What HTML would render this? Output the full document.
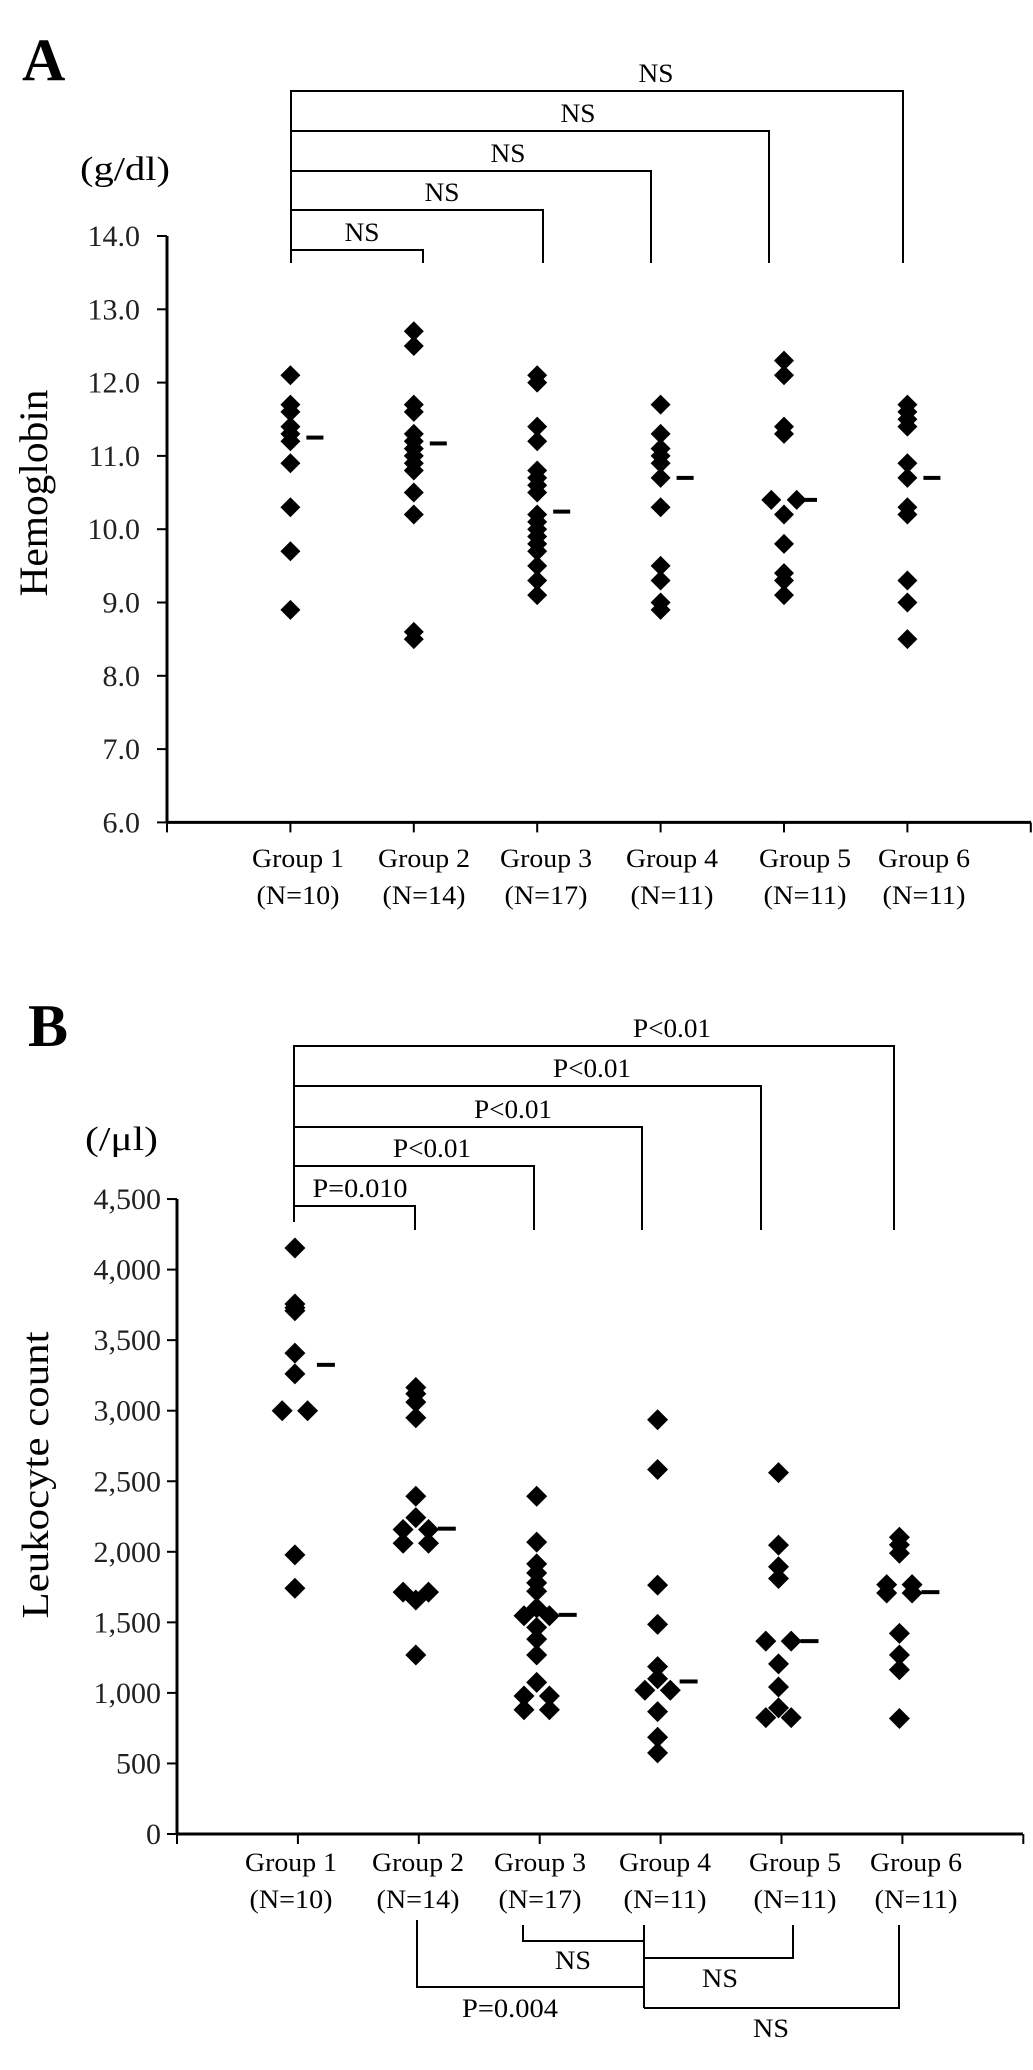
<!DOCTYPE html>
<html><head><meta charset="utf-8"><style>
html,body{margin:0;padding:0;background:#fff;}
svg{display:block;font-family:"Liberation Serif",serif;}
</style></head><body>
<svg id="fig" width="1033" height="2070" viewBox="0 0 1033 2070" xmlns="http://www.w3.org/2000/svg">
<g id="panelA"></g>
<g id="panelB"></g>
</svg>
<script>
// ---------- data ----------
const categories = ['Group 1','Group 2','Group 3','Group 4','Group 5','Group 6'];
const nLabels = ['(N=10)','(N=14)','(N=17)','(N=11)','(N=11)','(N=11)'];

const hbG1 = [12.1,11.7,11.6,11.4,11.3,11.2,10.9,10.3,9.7,8.9];
const hbG2 = [12.7,12.5,11.7,11.6,11.3,11.2,11.1,11.0,10.9,10.8,10.5,10.2,8.6,8.5];
const hbG3 = [12.1,12.0,11.4,11.2,10.8,10.7,10.6,10.5,10.2,10.1,10.0,9.9,9.8,9.7,9.5,9.3,9.1];
const hbG4 = [11.7,11.3,11.1,11.0,10.9,10.7,10.3,9.5,9.3,9.0,8.9];
const hbG5 = [12.3,12.1,11.4,11.3,10.4,10.4,10.2,9.8,9.4,9.3,9.1];
const hbG6 = [11.7,11.6,11.5,11.4,10.9,10.7,10.3,10.2,9.3,9.0,8.5];
const hbMedians = [11.25,11.17,10.24,10.7,10.4,10.7];
const hbTicks = [6,7,8,9,10,11,12,13,14];
const hbTickLabels = ['6.0','7.0','8.0','9.0','10.0','11.0','12.0','13.0','14.0'];
const hbPairs = [[0,1],[0,2],[0,3],[0,4],[0,5]];
const hbPairLabels = ['NS','NS','NS','NS','NS'];

const wbcG1 = [4153,3756,3730,3708,3408,3261,3000,3000,1978,1742];
const wbcG2 = [3164,3120,3061,2950,2394,2242,2158,2158,2061,2061,1714,1714,1658,1269];
const wbcG3 = [2394,2069,1914,1850,1780,1720,1603,1547,1547,1464,1381,1269,1075,978,978,881,881];
const wbcG4 = [2936,2583,1764,1486,1186,1100,1019,1019,867,686,575];
const wbcG5 = [2561,2047,1894,1811,1367,1367,1206,1042,894,825,825];
const wbcG6 = [2103,2050,1990,1767,1767,1708,1708,1422,1269,1164,819];
const wbcMedians = [3325,2164,1553,1081,1367,1714];
const wbcTicks = [0,500,1000,1500,2000,2500,3000,3500,4000,4500];
const wbcTickLabels = ['0','500','1,000','1,500','2,000','2,500','3,000','3,500','4,000','4,500'];
const wbcTopPairs = [[0,1],[0,2],[0,3],[0,4],[0,5]];
const wbcTopLabels = ['P=0.010','P<0.01','P<0.01','P<0.01','P<0.01'];
const wbcBottomLabels = ['NS','NS','P=0.004','NS'];

// ---------- helpers ----------
const NS='http://www.w3.org/2000/svg';
function mk(parent,tag,attrs,text){const e=document.createElementNS(NS,tag);for(const k in attrs)e.setAttribute(k,attrs[k]);if(text!==undefined)e.textContent=text;parent.appendChild(e);return e;}
function line(p,x1,y1,x2,y2,w){return mk(p,'line',{x1:x1,y1:y1,x2:x2,y2:y2,stroke:'#000','stroke-width':w});}

function drawPanel(cfg){
  const g=cfg.g;
  let t=mk(g,'text',{x:cfg.letterX,y:cfg.letterY,'font-size':60,'font-weight':'bold'},cfg.letter);
  
  
  t=mk(g,'text',{x:cfg.unitX,y:cfg.unitY,'font-size':34,textLength:cfg.unitW,lengthAdjust:'spacingAndGlyphs'},cfg.unit);
  
  
  t=mk(g,'text',{x:0,y:0,'font-size':cfg.titleSize,'text-anchor':'middle',textLength:cfg.titleLen,lengthAdjust:'spacingAndGlyphs',transform:'translate('+cfg.titleX+','+cfg.titleY+') rotate(-90)'},cfg.title);
  
  
  let a=line(g,cfg.axisX,cfg.yOf(cfg.ticks[cfg.ticks.length-1]),cfg.axisX,cfg.yOf(cfg.ticks[0]),3);
  
  
  a=line(g,cfg.axisX,cfg.yOf(cfg.ticks[0]),cfg.axisEnd,cfg.yOf(cfg.ticks[0]),3);
  
  
  cfg.ticks.forEach((v,i)=>{
    const y=cfg.yOf(v);
    const tk=line(g,cfg.axisX-10,y,cfg.axisX,y,2);
    
    
    const lb=mk(g,'text',{x:cfg.tickLabelX,y:y+10,'font-size':30,'text-anchor':'end',fill:'#222'},cfg.tickLabels[i]);
    
    
  });
  const nT=categories.length+1;
  for(let k=0;k<=nT;k++){
    const x=cfg.axisX+k*cfg.step;
    const tk=line(g,x,cfg.yOf(cfg.ticks[0]),x,cfg.yOf(cfg.ticks[0])+10,2);
    
    
  }
  categories.forEach((c,i)=>{
    const lx=cfg.labelXs[i];
    let l=mk(g,'text',{x:lx,y:cfg.catY,'font-size':26,'text-anchor':'middle',textLength:92,lengthAdjust:'spacingAndGlyphs'},c);
    
    
    l=mk(g,'text',{x:lx,y:cfg.catY+37,'font-size':26,'text-anchor':'middle',textLength:83,lengthAdjust:'spacingAndGlyphs'},nLabels[i]);
    
    
  });
  const hs=cfg.half;
  cfg.series.forEach((vals,i)=>{
    const cx=cfg.xOf(i);
    const seen={};
    const counts={};
    vals.forEach(v=>{counts[v]=(counts[v]||0)+1;});
    vals.forEach(v=>{
      let x=cx;
      if(counts[v]>1){const k=seen[v]||0;seen[v]=k+1;x=cx+(k===0?-cfg.dx:cfg.dx);}
      const y=cfg.yOf(v);
      const p=mk(g,'polygon',{points:(x)+','+(y-hs)+' '+(x+hs)+','+y+' '+x+','+(y+hs)+' '+(x-hs)+','+y,fill:'#000'});
      
      
    });
    const my=cfg.yOf(cfg.medians[i]);
    const m=mk(g,'rect',{x:cx+cfg.medOff,y:my-2,width:cfg.medW,height:4,fill:'#000'});
    
    
  });
  cfg.pairs.forEach((pr,i)=>{
    const y=cfg.brY[i];
    const x1=cfg.brX[pr[0]],x2=cfg.brX[pr[1]];
    const pth=mk(g,'path',{d:'M'+x1+','+cfg.brBottom[0]+' V'+y+' H'+x2+' V'+cfg.brBottom[1],fill:'none',stroke:'#000','stroke-width':2});
    
    
    const lb=mk(g,'text',{x:cfg.brLabelX[i],y:y-9,'font-size':26,'text-anchor':'middle',textLength:cfg.pairLabels[i]==='NS'?35:(cfg.pairLabels[i].length>6?95:78),lengthAdjust:'spacingAndGlyphs'},cfg.pairLabels[i]);
    
    
  });
}

const aStep=123.4;
drawPanel({
  g:document.getElementById('panelA'),letter:'A',letterX:22,letterY:80,
  unit:'(g/dl)',unitX:80,unitY:180,unitW:90,
  title:'Hemoglobin',titleX:47,titleY:493,titleLen:207,titleSize:40,
  axisX:167,axisEnd:1031,step:aStep,
  ticks:hbTicks,tickLabels:hbTickLabels,tickLabelX:140,
  yOf:v=>236+(14-v)*73.3,
  xOf:i=>167+aStep*(i+1),
  labelXs:[298,424,546,672,805,924],catY:867,
  series:[hbG1,hbG2,hbG3,hbG4,hbG5,hbG6],medians:hbMedians,
  half:10,dx:12.7,medOff:16,medW:17,
  pairs:hbPairs,pairLabels:hbPairLabels,
  brX:[291,423,543,651,769,903],brY:[250,210,171,131,91],brBottom:[263,263],
  brLabelX:[362,442,508,578,656]
});

const bStep=120.9;
drawPanel({
  g:document.getElementById('panelB'),letter:'B',letterX:28,letterY:1046,
  unit:'(/\u03bcl)',unitX:85,unitY:1150,unitW:73,
  title:'Leukocyte count',titleX:48,titleY:1475,titleLen:287,titleSize:38,
  axisX:177,axisEnd:1023,step:bStep,
  ticks:wbcTicks,tickLabels:wbcTickLabels,tickLabelX:161,
  yOf:v=>1834-v*0.1411,
  xOf:i=>174+bStep*(i+1),
  labelXs:[291,418,540,665,795,916],catY:1871,
  series:[wbcG1,wbcG2,wbcG3,wbcG4,wbcG5,wbcG6],medians:wbcMedians,
  half:10.5,dx:12.7,medOff:22,medW:18,
  pairs:wbcTopPairs,pairLabels:wbcTopLabels,
  brX:[294,415,534,642,761,894],brY:[1206,1166,1127,1086,1046],brBottom:[1222,1230],
  brLabelX:[360,432,513,592,672]
});

(function(){
  const g=document.getElementById('panelB');
  const bx=[298,417,523,644,793,899];
  const bottom=[
    {d:'M'+bx[2]+',1925 V1941 H'+bx[3]},
    {d:'M'+bx[3]+',1925 V2008 M'+bx[3]+',1958 H'+bx[4]+' V1925'},
    {d:'M'+bx[1]+',1920 V1987 H'+bx[3]},
    {d:'M'+bx[3]+',2008 H'+bx[5]+' V1925'}
  ];
  const lbl=[[573,1969],[720,1987],[510,2017],[771,2037]];
  bottom.forEach((b,i)=>{
    const p=mk(g,'path',{d:b.d,fill:'none',stroke:'#000','stroke-width':2});
    
    
    const t=mk(g,'text',{x:lbl[i][0],y:lbl[i][1],'font-size':26,'text-anchor':'middle',textLength:wbcBottomLabels[i]==='NS'?36:96,lengthAdjust:'spacingAndGlyphs'},wbcBottomLabels[i]);
    
    
  });
})();
</script>
</body></html>
